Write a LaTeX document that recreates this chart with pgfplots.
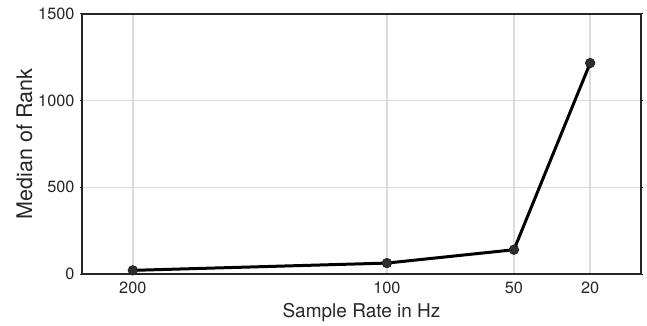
\documentclass[border=0pt]{standalone}
\usepackage{pgfplots}
\pgfplotsset{compat=1.18}
\usepackage{fontspec}
\setmainfont{TeX Gyre Heros}
\definecolor{txt}{HTML}{262626}
\definecolor{gridc}{HTML}{DCDCDC}
\begin{document}
\fontsize{16bp}{19bp}\selectfont
\begin{tikzpicture}[x=1bp,y=1bp]
\begin{axis}[
  scale only axis,
  width=559bp, height=260bp,
  xmin=0, xmax=220, ymin=0, ymax=1500,
  x dir=reverse,
  xtick={200,100,50,20},
  ytick={0,500,1000,1500},
  xmajorgrids, ymajorgrids,
  grid style={gridc, line width=1.4bp},
  axis line style={txt, line width=1.3bp},
  tick style={txt, line width=1bp},
  major tick length=2bp,
  tick align=outside,
  x tick style={draw=none},
  ticklabel style={font=\fontsize{16.3bp}{19bp}\selectfont, text=txt},
  /pgf/number format/assume math mode=true,
  /pgf/number format/1000 sep={},
  xlabel={Sample Rate in Hz},
  ylabel={Median of Rank},
  xlabel style={font=\fontsize{19bp}{22bp}\selectfont, text=txt, at={(axis description cs:0.5,0)}, anchor=north, yshift=-24bp},
  ylabel style={font=\fontsize{21.5bp}{24bp}\selectfont, text=txt, at={(axis description cs:0,0.5)}, anchor=south, yshift=44bp},
  clip=false,
]
\addplot[black, line width=3bp, mark=*, mark size=4.8bp, mark options={fill=black!82, draw=black!90, line width=0.6bp}]
  coordinates {(200,21) (100,63) (50,140) (20,1217)};
\end{axis}
\pgfresetboundingbox
\path ([shift={(-82bp,-52bp)}]current axis.south west) rectangle ([shift={(6bp,14bp)}]current axis.north east);
\end{tikzpicture}
\end{document}
